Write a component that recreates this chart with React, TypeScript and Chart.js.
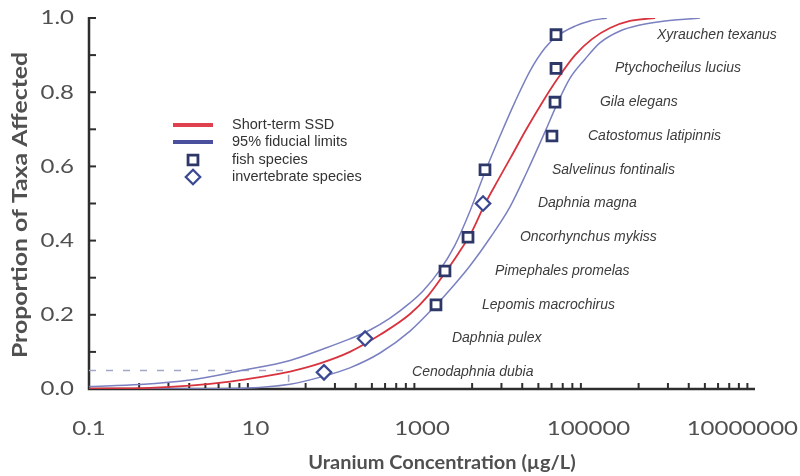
import React, { useEffect, useRef } from 'react';
import { Chart, registerables } from 'chart.js';

Chart.register(...registerables);

// ---- data (concentration in µg/L, proportion of taxa) ----
const ssdConc = [0.1, 0.54, 1.63, 4.94, 11.3, 26, 59.5, 136, 313, 718, 1180, 1888, 2710, 3880, 5710, 8190, 11700, 17700, 27600, 43000, 68900, 110000, 181000, 315000, 630000];
const ssdProp = [0.001, 0.003, 0.009, 0.02, 0.032, 0.047, 0.069, 0.1, 0.146, 0.202, 0.251, 0.313, 0.364, 0.42, 0.499, 0.563, 0.625, 0.698, 0.771, 0.838, 0.9, 0.943, 0.973, 0.992, 1.0];

const upperConc = [0.1, 0.41, 1.63, 6.5, 26, 65, 136, 237, 413, 718, 1028, 1645, 2490, 3775, 5710, 8650, 13100, 19800, 30000, 41900, 68900, 104000, 167000];
const upperProp = [0.007, 0.012, 0.024, 0.049, 0.077, 0.108, 0.135, 0.159, 0.191, 0.232, 0.264, 0.321, 0.388, 0.48, 0.585, 0.682, 0.774, 0.857, 0.919, 0.951, 0.978, 0.992, 1.0];

const lowerConc = [0.1, 4.07, 26, 65, 136, 313, 718, 1472, 2490, 3775, 6560, 11400, 18200, 30000, 41900, 60000, 90800, 137000, 239000, 416000, 830000, 2180000];
const lowerProp = [0.0, 0.001, 0.013, 0.034, 0.057, 0.097, 0.156, 0.226, 0.283, 0.332, 0.407, 0.491, 0.585, 0.693, 0.768, 0.838, 0.889, 0.933, 0.965, 0.981, 0.992, 1.0];

const hc5Conc = [0.1, 25, 25];
const hc5Prop = [0.05, 0.05, 0.0];

const fishSpecies = ['Lepomis macrochirus', 'Pimephales promelas', 'Oncorhynchus mykiss', 'Salvelinus fontinalis', 'Catostomus latipinnis', 'Gila elegans', 'Ptychocheilus lucius', 'Xyrauchen texanus'];
const fishConc = [1472, 1888, 3570, 5710, 36400, 39600, 40700, 40700];
const fishProp = [0.227, 0.318, 0.409, 0.591, 0.682, 0.773, 0.864, 0.955];
const fishLabelConc = [5260, 7530, 15000, 36400, 98600, 137000, 208000, 665000];

const invSpecies = ['Cenodaphnia dubia', 'Daphnia pulex', 'Daphnia magna'];
const invConc = [66.5, 207, 5410];
const invProp = [0.045, 0.136, 0.5];
const invLabelConc = [759, 2290, 24700];

const xMajorTicks = [0.1, 10, 1000, 100000, 10000000];
const xTickLabels = ['0.1', '10', '1000', '100000', '10000000'];
const xMinorFactors = [4, 9, 16, 25, 36, 49, 64, 81];
const yMajorTicks = [0, 0.2, 0.4, 0.6, 0.8, 1.0];
const yTickLabels = ['0.0', '0.2', '0.4', '0.6', '0.8', '1.0'];
const yMinorTicks = [0.1, 0.3, 0.5, 0.7, 0.9];

const legendLabels = ['Short-term SSD', '95% fiducial limits', 'fish species', 'invertebrate species'];
const xTitle = 'Uranium Concentration (µg/L)';
const yTitle = 'Proportion of Taxa Affected';

// ---- styles ----
const RED = '#d8343f';
const BLUE = '#7a80c0';
const NAVY = '#2d3768';
const DIAMOND = '#3b4892';
const AXIS = '#2e2e2e';
const TEXT = '#505050';

const pts = (xs: number[], ys: number[]) => xs.map((x, i) => ({ x, y: ys[i] }));

function drawText(ctx: CanvasRenderingContext2D, text: string, x: number, y: number, font: string, color: string, align: CanvasTextAlign, stretch = 1, rot = 0) {
  ctx.save();
  ctx.translate(x, y);
  if (rot) ctx.rotate(rot);
  ctx.scale(stretch, 1);
  ctx.font = font;
  ctx.fillStyle = color;
  ctx.textAlign = align;
  ctx.textBaseline = 'middle';
  ctx.fillText(text, 0, 0);
  ctx.restore();
}

const axesPlugin = {
  id: 'customAxes',
  beforeDatasetsDraw(chart: any) {
    const { ctx, chartArea: a, scales } = chart;
    const xs = scales.x, ys = scales.y;
    ctx.save();
    ctx.strokeStyle = AXIS;
    ctx.lineWidth = 2.5;
    ctx.beginPath();
    ctx.moveTo(a.left, a.top - 1);
    ctx.lineTo(a.left, a.bottom);
    ctx.lineTo(a.right, a.bottom);
    ctx.stroke();
    ctx.lineWidth = 2;
    [...yMajorTicks, ...yMinorTicks].forEach((v) => {
      const y = ys.getPixelForValue(v);
      ctx.beginPath();
      ctx.moveTo(a.left, y);
      ctx.lineTo(a.left + 7, y);
      ctx.stroke();
    });
    for (let i = 0; i < xMajorTicks.length - 1; i++) {
      xMinorFactors.forEach((f) => {
        const x = xs.getPixelForValue(xMajorTicks[i] * f);
        ctx.beginPath();
        ctx.moveTo(x, a.bottom);
        ctx.lineTo(x, a.bottom - 6);
        ctx.stroke();
      });
    }
    ctx.restore();

    const tickFont = '20px Lato';
    const st = 1.2;
    yMajorTicks.forEach((v, i) => {
      drawText(ctx, yTickLabels[i], 74, ys.getPixelForValue(v), tickFont, TEXT, 'right', st);
    });
    xMajorTicks.forEach((v, i) => {
      let x = xs.getPixelForValue(v);
      ctx.save();
      ctx.font = tickFont;
      const w = ctx.measureText(xTickLabels[i]).width * st;
      ctx.restore();
      if (x + w / 2 > chart.width - 2) x = chart.width - 2 - w / 2;
      drawText(ctx, xTickLabels[i], x, 429, tickFont, TEXT, 'center', st);
    });
    drawText(ctx, xTitle, 442, 463, 'bold 19px Lato', TEXT, 'center', 1.05);
    drawText(ctx, yTitle, 21, 205, 'bold 20px Lato', TEXT, 'center', 1.24, -Math.PI / 2);
  },
  afterDatasetsDraw(chart: any) {
    const { ctx, scales } = chart;
    const xs = scales.x, ys = scales.y;
    const font = 'italic 14px "Liberation Sans"';
    fishSpecies.forEach((s, i) => {
      drawText(ctx, s, xs.getPixelForValue(fishLabelConc[i]), ys.getPixelForValue(fishProp[i]), font, '#3c3c3c', 'left');
    });
    invSpecies.forEach((s, i) => {
      drawText(ctx, s, xs.getPixelForValue(invLabelConc[i]), ys.getPixelForValue(invProp[i]), font, '#3c3c3c', 'left');
    });

    // legend
    const lf = '14.5px "Liberation Sans"';
    const lx = 173, tx = 232;
    const rows = [125, 142, 160, 177];
    ctx.save();
    ctx.lineWidth = 4;
    ctx.strokeStyle = '#e0414f';
    ctx.beginPath(); ctx.moveTo(lx, rows[0]); ctx.lineTo(lx + 40, rows[0]); ctx.stroke();
    ctx.strokeStyle = '#4a4f9e';
    ctx.beginPath(); ctx.moveTo(lx, rows[1]); ctx.lineTo(lx + 40, rows[1]); ctx.stroke();
    ctx.restore();
    const fishDs = chart.data.datasets[0];
    const invDs = chart.data.datasets[1];
    const drawMarker = (ds: any, x: number, y: number) => {
      ctx.save();
      ctx.strokeStyle = ds.borderColor;
      ctx.fillStyle = ds.backgroundColor;
      ctx.lineWidth = ds.borderWidth;
      ctx.beginPath();
      if (ds.pointStyle === 'rect') {
        const s = ds.pointRadius * Math.SQRT1_2;
        ctx.rect(x - s, y - s, 2 * s, 2 * s);
      } else {
        const r = ds.pointRadius;
        ctx.moveTo(x, y - r); ctx.lineTo(x + r, y); ctx.lineTo(x, y + r); ctx.lineTo(x - r, y); ctx.closePath();
      }
      ctx.fill();
      ctx.stroke();
      ctx.restore();
    };
    drawMarker(fishDs, 193, rows[2]);
    drawMarker(invDs, 193, rows[3]);
    legendLabels.forEach((t, i) => drawText(ctx, t, tx, rows[i], lf, '#333333', 'left'));
  },
};

export default function App() {
  const ref = useRef<HTMLCanvasElement | null>(null);
  useEffect(() => {
    document.body.style.margin = '0';
    const canvas = ref.current;
    if (!canvas) return;
    const chart = new Chart(canvas, {
      type: 'line',
      data: {
        datasets: [
          {
            label: 'fish species',
            data: pts(fishConc, fishProp),
            showLine: false,
            pointStyle: 'rect',
            pointRadius: 7,
            borderWidth: 2.8,
            borderColor: NAVY,
            backgroundColor: '#ffffff',
            order: 0,
          } as any,
          {
            label: 'invertebrate species',
            data: pts(invConc, invProp),
            showLine: false,
            pointStyle: 'rectRot',
            pointRadius: 7.2,
            borderWidth: 2.3,
            borderColor: DIAMOND,
            backgroundColor: '#ffffff',
            order: 0,
          } as any,
          {
            label: 'Short-term SSD',
            data: pts(ssdConc, ssdProp),
            borderColor: RED,
            borderWidth: 1.8,
            pointRadius: 0,
            cubicInterpolationMode: 'monotone',
            order: 1,
          },
          {
            label: '95% fiducial limits (upper)',
            data: pts(upperConc, upperProp),
            borderColor: BLUE,
            borderWidth: 1.5,
            pointRadius: 0,
            cubicInterpolationMode: 'monotone',
            order: 2,
          },
          {
            label: '95% fiducial limits (lower)',
            data: pts(lowerConc, lowerProp),
            borderColor: BLUE,
            borderWidth: 1.5,
            pointRadius: 0,
            cubicInterpolationMode: 'monotone',
            order: 2,
          },
          {
            label: 'HC5',
            data: pts(hc5Conc, hc5Prop),
            borderColor: '#a3a7c6',
            borderWidth: 1.6,
            borderDash: [7, 10],
            pointRadius: 0,
            tension: 0,
            order: 3,
          },
        ],
      },
      options: {
        responsive: false,
        animation: false,
        layout: { padding: { left: 89, right: 45, top: 18, bottom: 87 } },
        plugins: { legend: { display: false }, tooltip: { enabled: false } },
        elements: { line: { fill: false } },
        scales: {
          x: { type: 'logarithmic', min: 0.1, max: 10000000, display: false },
          y: { type: 'linear', min: 0, max: 1, display: false },
        },
      },
      plugins: [axesPlugin],
    });
    return () => chart.destroy();
  }, []);
  return <canvas ref={ref} width={800} height={476} style={{ display: 'block' }} />;
}
